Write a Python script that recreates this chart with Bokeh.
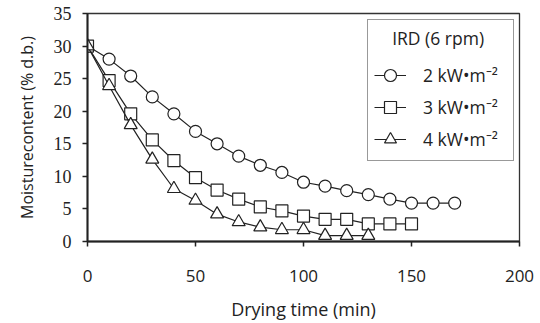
from bokeh.plotting import figure
from bokeh.models import Range1d, FixedTicker, Legend, LegendItem
from bokeh.embed import file_html
from bokeh.resources import INLINE

time_2kw = [0, 10, 20, 30, 40, 50, 60, 70, 80, 90, 100, 110, 120, 130, 140, 150, 160, 170]
mc_2kw = [30.0, 28.0, 25.4, 22.2, 19.6, 16.9, 15.0, 13.1, 11.7, 10.6, 9.1, 8.5, 7.8, 7.2, 6.5, 5.9, 5.9, 5.9]

time_3kw = [0, 10, 20, 30, 40, 50, 60, 70, 80, 90, 100, 110, 120, 130, 140, 150]
mc_3kw = [30.0, 24.7, 19.6, 15.6, 12.4, 9.8, 7.9, 6.5, 5.3, 4.7, 3.9, 3.4, 3.4, 2.7, 2.7, 2.7]

time_4kw = [0, 10, 20, 30, 40, 50, 60, 70, 80, 90, 100, 110, 120, 130]
mc_4kw = [30.0, 23.9, 17.9, 12.6, 8.1, 6.3, 4.2, 3.0, 2.2, 1.8, 1.8, 0.9, 0.9, 0.9]

x_ticks = [0, 50, 100, 150, 200]
y_ticks = [0, 5, 10, 15, 20, 25, 30, 35]
legend_title = "IRD (6 rpm)"
labels = ["2 kW\u2022m\u207b\u00b2", "3 kW\u2022m\u207b\u00b2", "4 kW\u2022m\u207b\u00b2"]

SANS = "Open Sans"
SERIF = "serif"

p = figure(width=540, height=323, output_backend="svg", toolbar_location=None,
           x_range=Range1d(0, 200), y_range=Range1d(0, 35),
           min_border_left=87, min_border_right=21, min_border_top=13, min_border_bottom=81)
p.background_fill_color = "white"
p.border_fill_color = "white"
p.grid.visible = False
p.outline_line_color = "#333333"
p.outline_line_width = 1.3

p.xaxis.ticker = FixedTicker(ticks=x_ticks)
p.yaxis.ticker = FixedTicker(ticks=y_ticks)
for ax in (p.xaxis[0], p.yaxis[0]):
    ax.axis_line_color = "#222222"
    ax.axis_line_width = 2
    ax.major_tick_line_color = "#222222"
    ax.major_tick_line_width = 1.5
    ax.major_tick_out = 5
    ax.major_tick_in = 0
    ax.minor_tick_out = 0
    ax.minor_tick_in = 0
    ax.major_label_text_color = "#222222"
    ax.axis_label_text_color = "#222222"
    ax.axis_label_text_font_style = "normal"

p.xaxis.major_label_text_font = SANS
p.xaxis.major_label_text_font_size = "17px"
p.xaxis.major_label_standoff = 23
p.xaxis.axis_label = "Drying time (min)"
p.xaxis.axis_label_text_font = SANS
p.xaxis.axis_label_text_font_size = "18px"
p.xaxis.axis_label_standoff = 12

yax = p.yaxis[0]
yax.major_label_text_font = SERIF
yax.major_label_text_font_size = "18px"
yax.major_label_standoff = 11
yax.axis_label = "Moisturecontent (% d.b.)"
yax.axis_label_text_font = SANS
yax.axis_label_text_font_size = "16px"
yax.axis_label_standoff = 13

series = [
    (time_2kw, mc_2kw, "circle", 12),
    (time_3kw, mc_3kw, "square", 12),
    (time_4kw, mc_4kw, "triangle", 13),
]
items = []
for (xs, ys, marker, size), lab in zip(series, labels):
    ln = p.line(xs, ys, line_color="#222222", line_width=1.2)
    sc = p.scatter(xs, ys, marker=marker, size=size, fill_color="white",
                   line_color="#222222", line_width=1.2)
    items.append(LegendItem(label=lab, renderers=[ln, sc]))

legend = Legend(items=items, location=(280, 80), title="\u00a0" * 4 + legend_title,
                title_text_font=SANS, title_text_font_size="17.5px", title_text_font_style="normal",
                title_text_color="#222222", title_standoff=10,
                label_text_font=SANS, label_text_font_size="17.5px", label_text_color="#222222",
                glyph_width=32, glyph_height=30, label_height=30, label_width=84,
                label_standoff=17, spacing=2, padding=6, margin=0,
                border_line_color="#333333", border_line_width=1.3,
                background_fill_color="white", background_fill_alpha=1.0)
p.add_layout(legend, "center")

open("out.html", "w").write(file_html(p, INLINE))
